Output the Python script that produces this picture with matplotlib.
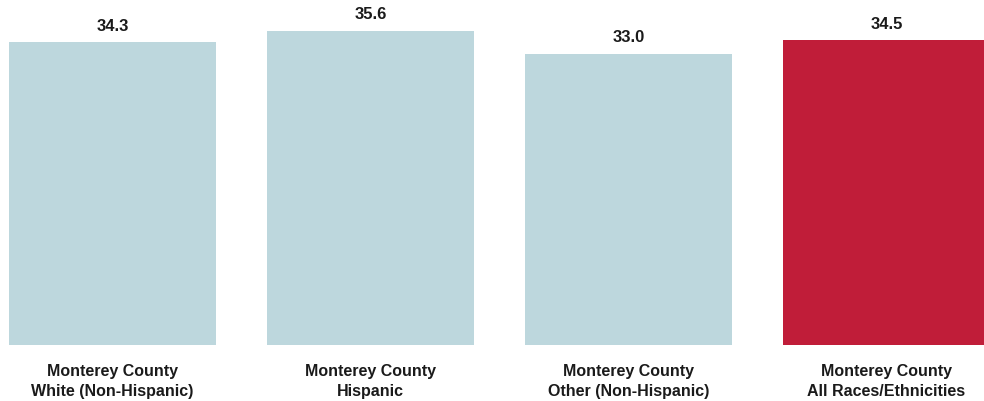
import numpy as np
import matplotlib.pyplot as plt

# categories and values
labels = ['Monterey County\nWhite (Non-Hispanic)', 'Monterey County\nHispanic',
          'Monterey County\nOther (Non-Hispanic)', 'Monterey County\nAll Races/Ethnicities']
values = [34.3, 35.6, 33.0, 34.5]
colors = ['#bdd7dd', '#bdd7dd', '#bdd7dd', '#c01d39']

plt.rcParams['font.family'] = ['Liberation Sans', 'DejaVu Sans']

fig = plt.figure(figsize=(9.84, 4.02), dpi=100)
ax = fig.add_axes([0, 56 / 402, 1, 346 / 402])

ind = np.arange(len(values))
ax.bar(ind, values, 0.805, color=colors)

for x, v in zip(ind, values):
    ax.text(x, v + 1.05, '%.1f' % v, ha='center', va='bottom',
            fontsize=12, fontweight='bold', color='#1a1a1a')

ax.set_xlim(-0.436, 3.378)
ax.set_ylim(0, 39.18)
ax.set_xticks(ind)
ax.set_xticklabels(labels, fontsize=11.5, fontweight='bold', color='#1a1a1a',
                   linespacing=1.45)
ax.tick_params(axis='x', length=0, pad=13)
ax.set_yticks([])
for s in ax.spines.values():
    s.set_visible(False)

fig.savefig('out.png', dpi=100)
